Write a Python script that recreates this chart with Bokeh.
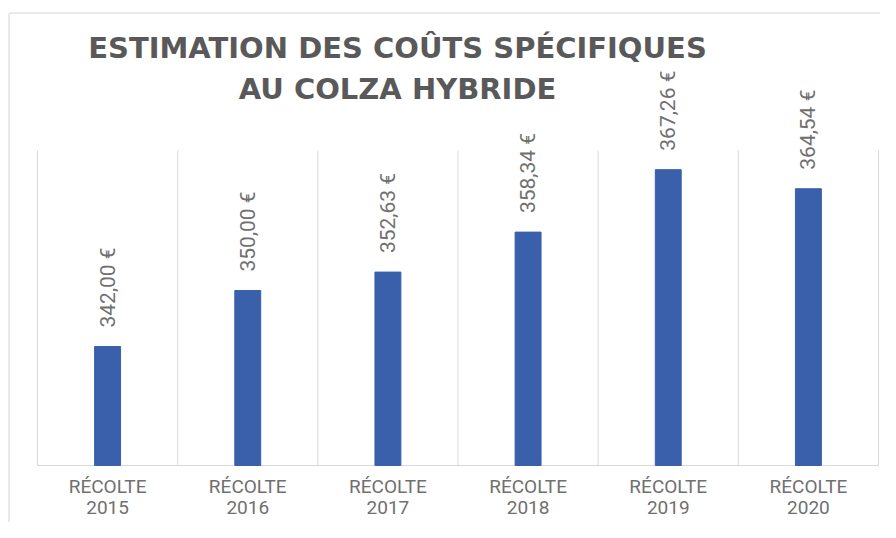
from bokeh.plotting import figure
from bokeh.models import Range1d, ColumnDataSource
from bokeh.embed import file_html
from bokeh.resources import INLINE
from bokeh.core.properties import value

# ---- data ----
title_lines = ["ESTIMATION DES COÛTS SPÉCIFIQUES", "AU COLZA HYBRIDE"]
years = ["2015", "2016", "2017", "2018", "2019", "2020"]
prefix = "RÉCOLTE"
costs = [342.00, 350.00, 352.63, 358.34, 367.26, 364.54]
cost_labels = ["342,00 €", "350,00 €", "352,63 €", "358,34 €", "367,26 €", "364,54 €"]
y_min, y_max = 325, 370

# ---- styling / layout (pixels) ----
W, H = 880, 522
X_L, X_R, Y_T, Y_B = 37, 878, 150, 465
BLUE = "#3A60AB"
GRID = "#d9d9d9"
TITLE_C = "#595959"
LAB_C = "#707070"

n = len(years)
cw = (X_R - X_L) / n
ppu = (Y_B - Y_T) / (y_max - y_min)


def xd(px):
    return (px - X_L) / cw - 0.5


def yd(py):
    return y_min + (Y_B - py) / ppu


xs = list(range(n))
src = ColumnDataSource(dict(x=xs, top=costs, lab=cost_labels,
                            pre=[prefix] * n, yr=years, base=[y_min] * n))

p = figure(width=W, height=H, output_backend="svg", toolbar_location=None,
           x_range=Range1d(xd(0), xd(W)), y_range=Range1d(yd(H), yd(0)),
           x_axis_type=None, y_axis_type=None, min_border=0)
p.outline_line_color = None
p.grid.visible = False
p.background_fill_color = "white"
p.border_fill_color = "white"

# outer chart frame
p.segment(x0=[xd(8.5), xd(8.5)], y0=[yd(12.5), yd(12.5)],
          x1=[xd(8.5), xd(W + 5)], y1=[yd(H + 5), yd(12.5)],
          line_color="#d4d4d4", line_width=1)

# category separators and baseline
sep = [i - 0.5 for i in range(n + 1)]
p.segment(x0=sep, y0=[y_min] * len(sep), x1=sep, y1=[y_max] * len(sep),
          line_color=GRID, line_width=1)
p.segment(x0=[-0.5], y0=[y_min], x1=[n - 0.5], y1=[y_min],
          line_color=GRID, line_width=1)

# bars
p.vbar(x="x", top="top", bottom=y_min, width=0.185, source=src,
       fill_color=BLUE, line_color=BLUE)

# value labels
p.text(x="x", y="top", text="lab", source=src, angle=1.5708,
       text_align="left", text_baseline="middle", y_offset=-19,
       text_font=value("Roboto"), text_font_size="21px", text_color=LAB_C)

# category labels
p.text(x="x", y="base", text="pre", source=src, text_align="center",
       text_baseline="alphabetic", y_offset=21,
       text_font=value("Roboto"), text_font_size="19px", text_color=LAB_C)
p.text(x="x", y="base", text="yr", source=src, text_align="center",
       text_baseline="alphabetic", y_offset=42,
       text_font=value("Roboto"), text_font_size="19px", text_color=LAB_C)

# title
p.text(x=[xd(397)] * 2, y=[y_max] * 2, text=title_lines, text_align="center",
       text_baseline="alphabetic", y_offset=[-103, -62],
       text_font=value("DejaVu Sans"), text_font_style="bold",
       text_font_size="29px", text_color=TITLE_C)

open("out.html", "w").write(file_html(p, INLINE))
